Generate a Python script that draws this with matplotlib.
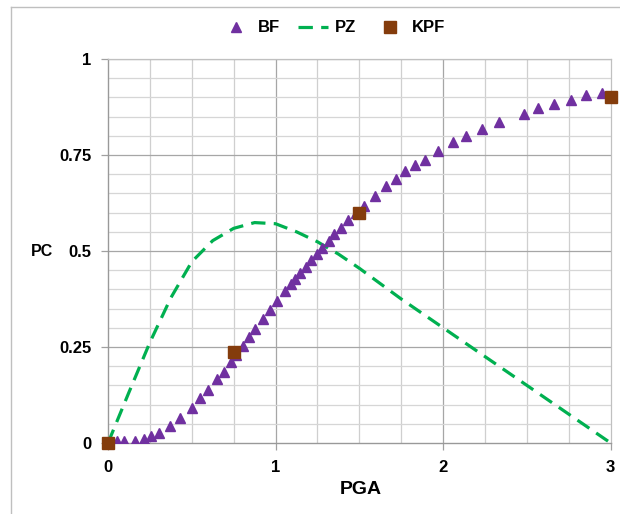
import numpy as np
import matplotlib
matplotlib.use("Agg")
from matplotlib import pyplot as plt
from matplotlib.lines import Line2D

plt.rcParams['font.family'] = ['Liberation Sans', 'DejaVu Sans']
plt.rcParams['font.weight'] = 'bold'

# BF points
bf_x = [0.055, 0.095, 0.161, 0.213, 0.255, 0.306, 0.37, 0.432, 0.501, 0.549,
        0.595, 0.652, 0.692, 0.732, 0.764, 0.804, 0.84, 0.879, 0.927, 0.967,
        1.01, 1.054, 1.09, 1.114, 1.144, 1.18, 1.211, 1.245, 1.277, 1.317,
        1.348, 1.392, 1.434, 1.48, 1.527, 1.591, 1.657, 1.718, 1.772, 1.832,
        1.891, 1.967, 2.057, 2.136, 2.233, 2.333, 2.48, 2.568, 2.661, 2.763,
        2.852, 2.951]
bf_y = [0.005, 0.005, 0.005, 0.01, 0.018, 0.027, 0.044, 0.065, 0.092, 0.117,
        0.138, 0.166, 0.186, 0.21, 0.23, 0.253, 0.275, 0.296, 0.322, 0.346,
        0.371, 0.397, 0.414, 0.428, 0.443, 0.459, 0.477, 0.492, 0.509, 0.527,
        0.544, 0.561, 0.582, 0.6, 0.618, 0.644, 0.669, 0.688, 0.708, 0.723,
        0.737, 0.761, 0.783, 0.799, 0.818, 0.835, 0.858, 0.872, 0.883, 0.894,
        0.905, 0.912]

# PZ curve
pz_x = [0, 0.125, 0.25, 0.375, 0.5, 0.625, 0.75, 0.875, 1.0, 1.125, 1.25,
        1.375, 1.5, 1.625, 1.75, 2.0, 2.25, 2.5, 2.75, 3.0]
pz_y = [0, 0.132, 0.262, 0.378, 0.472, 0.527, 0.559, 0.574, 0.571, 0.55, 0.524,
        0.492, 0.455, 0.415, 0.375, 0.30, 0.225, 0.15, 0.075, 0.0]

# KPF points
kpf_x = [0, 0.75, 1.5, 3.0]
kpf_y = [0, 0.236, 0.6, 0.9]

W, H = 620, 514
fig = plt.figure(figsize=(W / 100, H / 100), dpi=100)
ax = fig.add_axes([108 / W, 1 - 443 / H, (610.7 - 108) / W, (443 - 59) / H])

ax.set_xlim(0, 3)
ax.set_ylim(0, 1)

# grid
for v in np.arange(0.25, 3.0, 0.25):
    c = '#a6a6a6' if abs(v - round(v)) < 1e-9 else '#cfcfcf'
    ax.axvline(v, color=c, lw=0.9, zorder=0)
for v in np.arange(0.05, 1.0001, 0.05):
    c = '#a6a6a6' if abs(v / 0.25 - round(v / 0.25)) < 1e-6 else '#d6d6d6'
    ax.axhline(v, color=c, lw=0.9, zorder=0)

ax.plot(pz_x, pz_y, color='#00b050', lw=2.3, dashes=(4.5, 2.6), zorder=2)
ax.plot(bf_x, bf_y, ls='none', marker='^', ms=7, color='#7030a0', zorder=3)
ax.plot(kpf_x, kpf_y, ls='none', marker='s', ms=8.5, color='#843c0c',
        zorder=4, clip_on=False)

ax.set_xticks([0, 1, 2, 3])
ax.set_xticklabels(['0', '1', '2', '3'])
ax.set_yticks([0, 0.25, 0.5, 0.75, 1])
ax.set_yticklabels(['0', '0.25', '0.5', '0.75', '1'])
ax.tick_params(axis='both', direction='out', length=5, width=0.9,
               color='#a0a0a0', labelsize=12, pad=7)

for side in ['left', 'bottom']:
    ax.spines[side].set_color('#999999')
    ax.spines[side].set_linewidth(1.0)
for side in ['top', 'right']:
    ax.spines[side].set_color('#c0c0c0')
    ax.spines[side].set_linewidth(0.9)

fig.text(361 / W, 1 - 490 / H, 'PGA', ha='center', va='center',
         fontsize=14, fontweight='bold')
fig.text(42 / W, 1 - 251 / H, 'PC', ha='center', va='center',
         fontsize=11.5, fontweight='bold')

handles = [
    Line2D([], [], ls='none', marker='^', ms=7, color='#7030a0'),
    Line2D([], [], color='#00b050', lw=2.3, dashes=(4.5, 2.6)),
    Line2D([], [], ls='none', marker='s', ms=8.5, color='#843c0c'),
]
fig.legend(handles, ['BF', 'PZ', 'KPF'], loc='center', ncol=3,
           bbox_to_anchor=(333 / W, 1 - 28 / H), frameon=False,
           prop={'size': 12, 'weight': 'bold'}, handlelength=1.8,
           columnspacing=1.1, handletextpad=0.4)

# outer chart border
fig.add_artist(Line2D([11 / W, 11 / W], [0, 1 - 7 / H], transform=fig.transFigure,
                      color='#bfbfbf', lw=1))
fig.add_artist(Line2D([11 / W, 1], [1 - 7 / H, 1 - 7 / H], transform=fig.transFigure,
                      color='#bfbfbf', lw=1))

fig.savefig('out.png', dpi=100)
